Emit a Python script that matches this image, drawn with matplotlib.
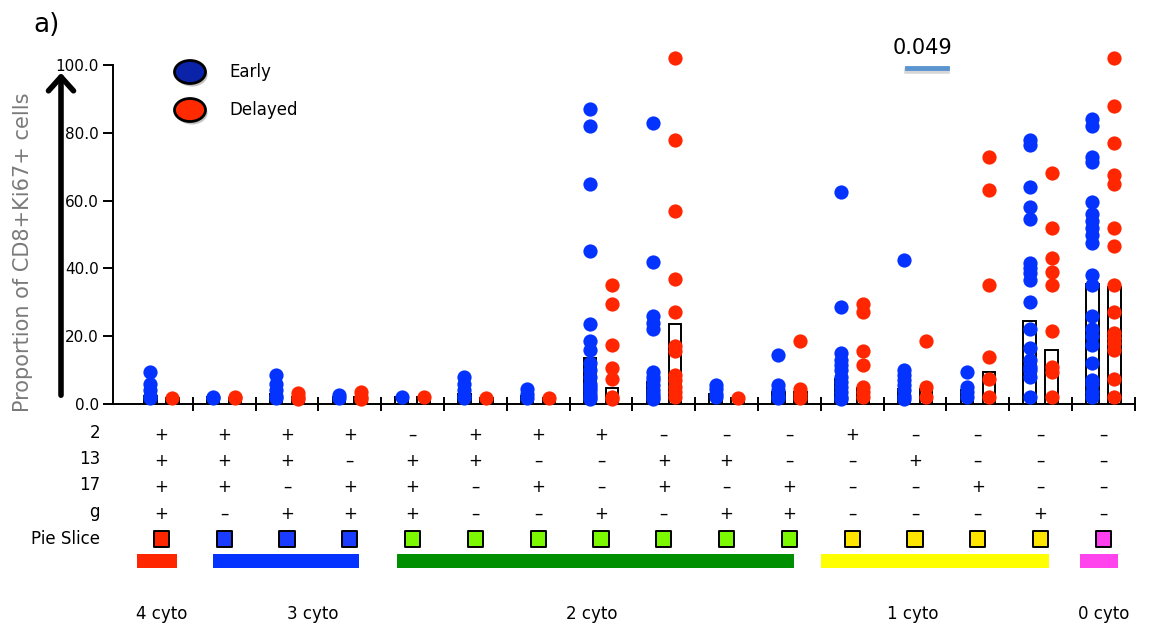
import numpy as np
import matplotlib.pyplot as plt
from matplotlib.patches import Ellipse, Rectangle, FancyArrowPatch
from matplotlib.transforms import blended_transform_factory

# ---- data ----
early = [
    [9.5, 6.0, 4.0, 2.5, 1.8],
    [2.2, 1.8],
    [8.5, 6.0, 4.0, 2.5, 1.8],
    [2.8, 1.8],
    [2.0],
    [8.0, 6.0, 4.0, 2.5, 1.8],
    [4.5, 3.0, 1.8],
    [87, 82, 65, 45, 23.5, 18.5, 16, 12, 10, 8, 6, 5, 4, 3, 2, 1.5],
    [83, 42, 26, 24, 22, 9.5, 8, 7, 5.5, 4, 3, 2, 1.5],
    [5.5, 4.5, 3.0, 2.0],
    [14.5, 5.5, 4.0, 2.5, 1.8],
    [62.5, 28.5, 15, 13, 11.5, 10, 8, 6.5, 5, 3.5, 2, 1.5],
    [42.5, 10, 8.5, 7, 5.5, 4, 2.5, 1.5],
    [9.5, 5, 3.5, 2],
    [78, 76.5, 64, 58, 54.5, 41.5, 40, 38.5, 36.5, 30, 22, 16.5, 13, 11, 10, 8, 2],
    [84, 82, 73, 71.5, 59.5, 56, 54, 52, 50, 47.5, 38, 35, 26, 22, 20, 17.5, 12, 7, 6, 3.5, 2],
]
delayed = [
    [1.8],
    [1.8, 2.0],
    [3.2, 2.0, 1.5],
    [3.5, 2.0, 1.5],
    [2.0],
    [1.8],
    [1.8],
    [35, 29.5, 17.5, 10.5, 7.5, 2.0, 1.5],
    [102, 78, 57, 37, 27, 17, 15.5, 8.5, 7, 5, 3.5, 2],
    [1.8],
    [18.5, 4.5, 3.0, 1.8],
    [29.5, 27, 15.5, 11.5, 5, 3.5, 2],
    [18.5, 5, 2],
    [73, 63, 35, 14, 7.5, 2],
    [68, 52, 43, 39, 35, 21.5, 11, 9.5, 2],
    [102, 88, 77, 67.5, 65, 52, 46.5, 35, 27, 21, 19.5, 18, 16, 7.5, 2],
]
early_bar = [2.5, 2.0, 3.0, 2.0, 2.0, 3.0, 2.5, 13.5, 6.5, 3.0, 3.5, 7.5, 4.5, 4.0, 24.5, 35.5]
delayed_bar = [1.8, 1.8, 2.0, 2.0, 2.0, 1.8, 1.8, 4.7, 23.5, 1.8, 3.5, 4.7, 4.5, 9.4, 16.0, 34.5]

row_names = ['2', '13', '17', 'g']
row_2 = '++++-+++---+----'
row_13 = '+++-++--++--+---'
row_17 = '++-++-+-+-+--+--'
row_g = '+-+++--+-++---+-'
slice_colors = ['#ff2600'] + ['#1a3cff'] * 3 + ['#7cf800'] * 7 + ['#ffe600'] * 4 + ['#ff40ee']

cyto_labels = ['4 cyto', '3 cyto', '2 cyto', '1 cyto', '0 cyto']
cyto_colors = ['#ff2600', '#0433ff', '#008f00', '#ffff00', '#ff44ee']
p_text = '0.049'

# ---- layout (column units / figure pixels) ----
cyto_spans = [(-0.39, 0.25), (0.82, 3.14), (3.75, 10.07), (10.5, 14.13), (14.63, 15.23)]
cyto_label_x = [0.0, 2.41, 6.86, 11.97, 15.0]
W, H = 1152, 630
BLUE, RED = '#0433ff', '#ff2600'


def fy(px):
    return 1 - px / H


def fx(px):
    return px / W


fig = plt.figure(figsize=(W / 100, H / 100), dpi=100)
ax = fig.add_axes([fx(113), fy(404), 0.887, (404 - 65) / H])
n = len(early)
xs = np.arange(n)

ax.bar(xs - 0.175, early_bar, width=0.2, fill=False, edgecolor='black', lw=1.4, zorder=2)
ax.bar(xs + 0.175, delayed_bar, width=0.2, fill=False, edgecolor='black', lw=1.4, zorder=2)
for i in range(n):
    ax.scatter([i - 0.175] * len(early[i]), early[i], s=105, color=BLUE, lw=0, zorder=3, clip_on=False)
    ax.scatter([i + 0.175] * len(delayed[i]), delayed[i], s=105, color=RED, lw=0, zorder=3, clip_on=False)

ax.set_xlim(-0.77, 15.5)
ax.set_ylim(0, 100)
ax.spines[['top', 'right']].set_visible(False)
ax.spines[['left', 'bottom']].set_linewidth(1.4)
ax.set_xticks(np.arange(0.5, n, 1))
ax.set_xticklabels([])
ax.tick_params(axis='x', direction='inout', length=10, width=1.4)
ax.set_yticks(np.arange(0, 101, 20))
ax.set_yticklabels([f'{v:.1f}' for v in np.arange(0, 101, 20)], fontsize=11)
ax.tick_params(axis='y', direction='out', length=7, width=1.4, pad=3)

# table under the axis
blend = blended_transform_factory(ax.transData, fig.transFigure)
row_y = [433, 459, 485, 512]
for name, signs, ypx in zip(row_names, [row_2, row_13, row_17, row_g], row_y):
    fig.text(fx(100), fy(ypx), name, ha='right', va='center', fontsize=12)
    for i, s in enumerate(signs):
        ax.text(i, fy(ypx + 2), '+' if s == '+' else '\u2013', transform=blend,
                ha='center', va='center', fontsize=12)
fig.text(fx(100), fy(539), 'Pie Slice', ha='right', va='center', fontsize=12)
ax.scatter(xs, [fy(539)] * n, transform=blend, marker='s', s=120, c=slice_colors,
           edgecolors='black', linewidths=1.4, clip_on=False)

for (a, b), c, lab, lx in zip(cyto_spans, cyto_colors, cyto_labels, cyto_label_x):
    ax.add_patch(Rectangle((a, fy(568)), b - a, 14 / H, transform=blend,
                           color=c, clip_on=False, lw=0))
    ax.text(lx, fy(614), lab, transform=blend, ha='center', va='center', fontsize=12)

# y label and arrow
fig.text(fx(23), fy(252), 'Proportion of CD8+Ki67+ cells', rotation=90,
         ha='center', va='center', fontsize=15, color='#7a7a7a')
fig.add_artist(FancyArrowPatch((fx(61), fy(398)), (fx(61), fy(70)), transform=fig.transFigure,
                               arrowstyle='->,head_length=0.5,head_width=0.45',
                               mutation_scale=20, lw=4, color='black'))

# legend
for yc, col, lab in [(72, '#0a23a8', 'Early'), (110, '#ff2a00', 'Delayed')]:
    fig.add_artist(Ellipse((fx(192), fy(yc + 3)), 31 / W, 23 / H, transform=fig.transFigure,
                           color='#888888', alpha=0.5, lw=0))
    fig.add_artist(Ellipse((fx(190), fy(yc)), 31 / W, 23 / H, transform=fig.transFigure,
                           facecolor=col, edgecolor='black', lw=2))
    fig.text(fx(229), fy(yc), lab, ha='left', va='center', fontsize=12)

# p-value annotation
fig.text(fx(922), fy(48), p_text, ha='center', va='center', fontsize=15)
fig.add_artist(plt.Line2D([fx(907), fx(947)], [fy(71), fy(71)], color='#bbbbbb', lw=4, alpha=0.6))
fig.add_artist(plt.Line2D([fx(907), fx(947)], [fy(68), fy(68)], color='#5b95d0', lw=3.5))

fig.text(fx(33), fy(25), 'a)', ha='left', va='center', fontsize=19)

fig.savefig('out.png', dpi=100)
